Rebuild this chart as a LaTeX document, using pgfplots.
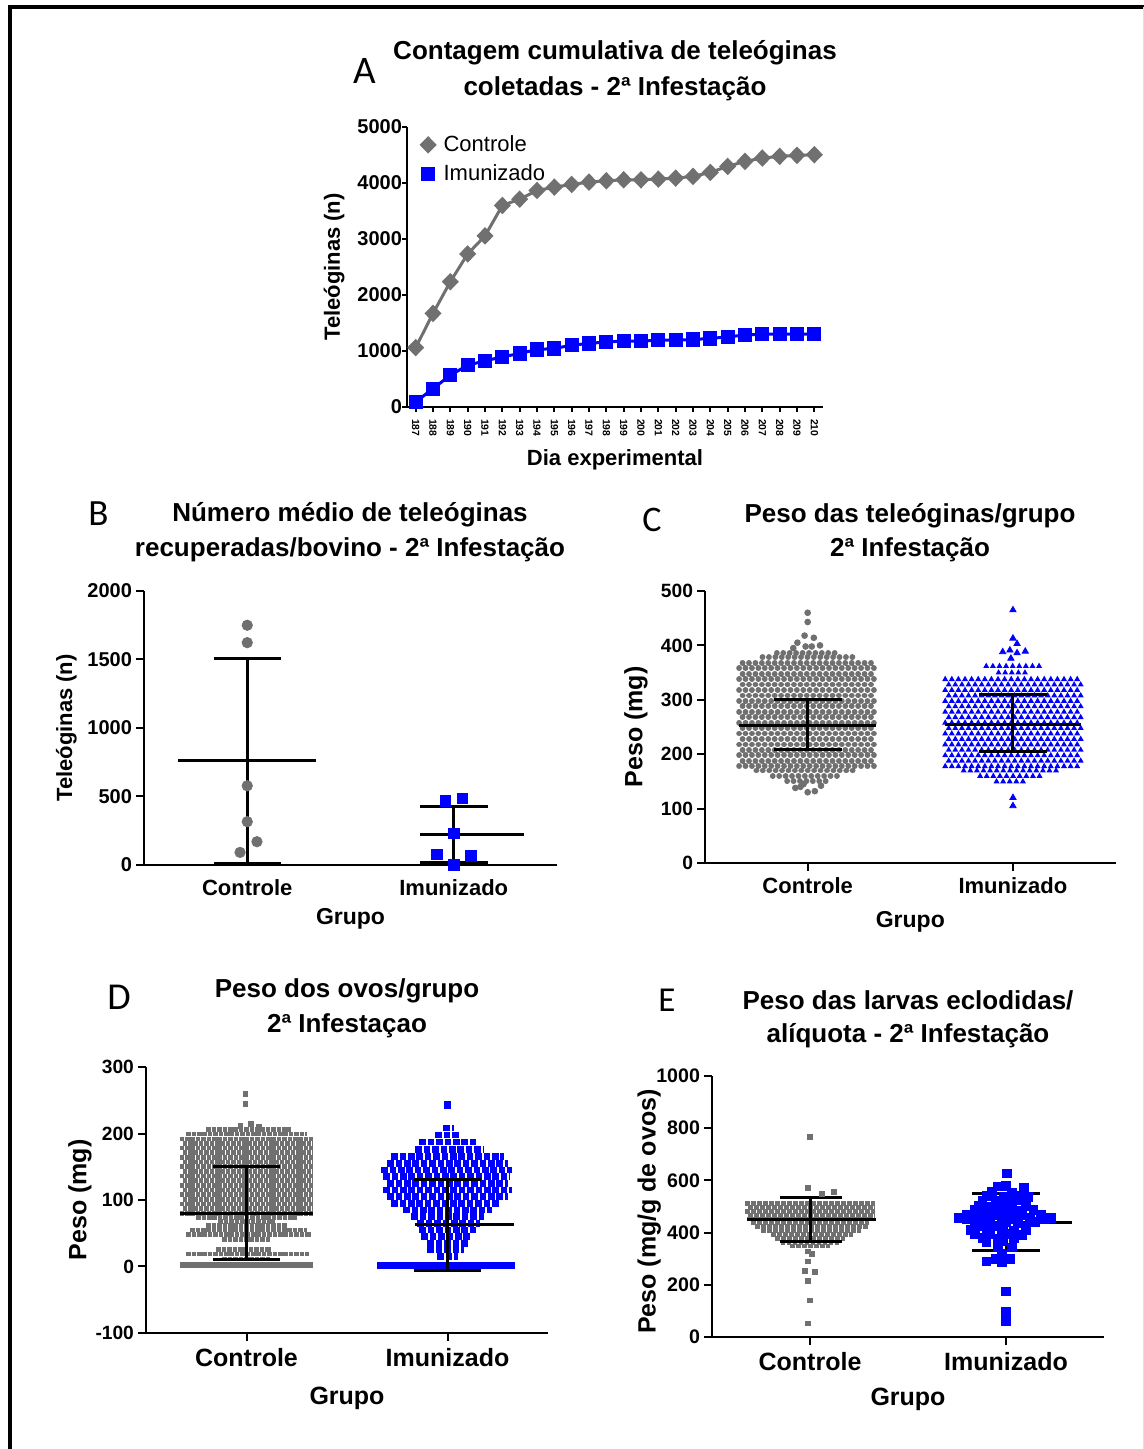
\documentclass[border=0pt]{standalone}
\usepackage{fontspec}
\setmainfont{Liberation Sans}
\newfontfamily\carlito{Carlito}
\usepackage{pgfplots}
\pgfplotsset{compat=1.18}
\usetikzlibrary{decorations.markings}

\definecolor{ctrl}{RGB}{112,112,112}
\definecolor{imun}{RGB}{0,0,255}

\newcommand{\fs}[1]{\fontsize{#1}{#1}\selectfont}

\pgfplotsset{
  base/.style={
    scale only axis, anchor=south west, clip=false,
    axis lines*=left, axis line style={line width=1pt,-},
    tick align=outside, major tick length=4pt,
    tick style={line width=1pt, black},
    /pgf/number format/assume math mode=true,
    /pgf/number format/1000 sep={},
  },
  gp/.style={
    base, xmin=0.5, xmax=2.5, xtick={1,2},
    xticklabels={Controle,Imunizado},
    xlabel={Grupo},
  },
  mline/.style={black, line width=1.5pt, unbounded coords=jump},
  dotrow/.style={draw=ctrl, line width=2.9pt, line cap=round,
    dash pattern=on 0.01pt off 3.2pt, unbounded coords=jump},
  sqrow/.style n args={3}{draw=#1, line width=#2, line cap=butt,
    dash pattern=on #2 off #3, unbounded coords=jump},
  trirow/.style={draw=none, postaction={decorate},
    decoration={markings, mark=between positions 0 and 1 step 3.3pt with
      {\fill[imun] (0pt,1.7pt)--(1.5pt,-0.95pt)--(-1.5pt,-0.95pt)--cycle;}}},
}

\begin{document}
\begin{tikzpicture}
\path[use as bounding box] (0pt,0pt) rectangle (572pt,724.5pt);
\fill[white] (0pt,0pt) rectangle (572pt,724.5pt);
\draw[line width=2pt] (5pt,0pt) -- (5pt,721pt) -- (572pt,721pt);
\draw[gray!25, line width=0.5pt] (571.5pt,0pt) -- (571.5pt,721pt);

% ---------- A ----------
\begin{axis}[base, at={(203.5pt,521pt)}, width=208pt, height=140pt,
  xmin=186.5, xmax=210.5, ymin=0, ymax=5000,
  major tick length=2.5pt,
  xtick={187,...,210}, ytick={0,1000,...,5000},
  xticklabel style={rotate=-90, anchor=west, font=\bfseries\fs{5.2}},
  yticklabel style={font=\bfseries\fs{10}, xshift=3.5pt},
  xlabel={Dia experimental}, ylabel={Teleóginas (n)},
  xlabel style={at={(axis description cs:0.5,-0.19)}, anchor=center, font=\bfseries\fs{11}},
  ylabel style={at={(axis description cs:-0.175,0.5)}, anchor=center, font=\bfseries\fs{11}},
  legend style={at={(0.02,1.0)}, anchor=north west, draw=none, fill=none,
    font=\fs{11}, row sep=1.2pt, column sep=2.5pt},
  legend cell align=left,
  legend image code/.code={\draw[#1, only marks] plot coordinates {(0.15cm,0cm)};},
]
\addplot[ctrl, line width=1.5pt, mark=diamond*, mark size=3.3pt,
  mark options={xscale=1.3}] coordinates {
(187,1060)(188,1671)(189,2237)(190,2733)(191,3055)(192,3598)(193,3711)(194,3866)
(195,3926)(196,3974)(197,4015)(198,4039)(199,4057)(200,4057)(201,4069)(202,4087)
(203,4117)(204,4189)(205,4296)(206,4386)(207,4445)(208,4475)(209,4493)(210,4505)};
\addplot[imun, line width=1.5pt, mark=square*, mark size=2.8pt] coordinates {
(187,90)(188,328)(189,567)(190,746)(191,823)(192,895)(193,955)(194,1026)
(195,1044)(196,1104)(197,1134)(198,1163)(199,1175)(200,1175)(201,1193)(202,1193)
(203,1205)(204,1223)(205,1253)(206,1283)(207,1301)(208,1301)(209,1301)(210,1301)};
\legend{Controle,Imunizado}
\end{axis}

% ---------- B ----------
\begin{axis}[gp, at={(72pt,292pt)}, width=206.5pt, height=137pt,
  ymin=0, ymax=2000, ytick={0,500,...,2000}, xtick style={draw=none},
  yticklabel style={font=\bfseries\fs{10}, xshift=1.5pt},
  xticklabel style={font=\bfseries\fs{11}},
  ylabel={Teleóginas (n)},
  xlabel style={at={(axis description cs:0.5,-0.197)}, anchor=center, font=\bfseries\fs{11.5}},
  ylabel style={at={(axis description cs:-0.188,0.5)}, anchor=center, font=\bfseries\fs{11}},
]
\addplot[only marks, mark=*, mark size=2.6pt, ctrl] coordinates {
(1,1750)(1,1623)(1,578)(1,316)(1.047,170)(0.965,92)};
\addplot[only marks, mark=square*, mark size=2.7pt, imun] coordinates {
(1.96,467)(2.042,486)(2,231)(1.92,78)(2.082,68)(2,0)};
\addplot[mline] coordinates {
(0.666,761)(1.334,761)(1,nan)(1,12)(1,1505)(1,nan)
(0.837,1505)(1.163,1505)(1,nan)(0.837,12)(1.163,12)(1,nan)
(1.835,219)(2.34,219)(2,nan)(2,17)(2,428)(2,nan)
(1.835,428)(2.165,428)(2,nan)(1.835,17)(2.165,17)};
\end{axis}

% ---------- C ----------
\begin{axis}[gp, at={(352.5pt,293pt)}, width=205.3pt, height=136pt,
  ymin=0, ymax=500, ytick={0,100,...,500},
  yticklabel style={font=\bfseries\fs{9.6}, xshift=1.5pt},
  xticklabel style={font=\bfseries\fs{11}},
  ylabel={Peso (mg)},
  xlabel style={at={(axis description cs:0.5,-0.217)}, anchor=center, font=\bfseries\fs{11.5}},
  ylabel style={at={(axis description cs:-0.168,0.5)}, anchor=center, font=\bfseries\fs{12.5}},
]
\addplot[dotrow] coordinates {
(0.666,178)(1.334,178)(1,nan)(0.683,188)(1.334,188)(1,nan)
(0.666,198)(1.334,198)(1,nan)(0.683,208)(1.334,208)(1,nan)
(0.666,218)(1.334,218)(1,nan)(0.683,228)(1.334,228)(1,nan)
(0.666,238)(1.334,238)(1,nan)(0.683,248)(1.334,248)(1,nan)
(0.666,258)(1.334,258)(1,nan)(0.683,268)(1.334,268)(1,nan)
(0.666,278)(1.334,278)(1,nan)(0.683,288)(1.334,288)(1,nan)
(0.666,298)(1.334,298)(1,nan)(0.683,308)(1.334,308)(1,nan)
(0.666,318)(1.334,318)(1,nan)(0.683,328)(1.334,328)(1,nan)
(0.666,338)(1.334,338)(1,nan)(0.683,348)(1.334,348)(1,nan)
(0.666,358)(1.334,358)(1,nan)(0.683,368)(1.334,368)(1,nan)
(0.78,378)(1.24,378)(1,nan)(0.85,386)(1.16,386)(1,nan)
(0.75,170)(1.25,170)(1,nan)(0.83,160)(1.17,160)(1,nan)
(0.9,150)(1.1,150)};
\addplot[only marks, mark=*, mark size=1.45pt, ctrl] coordinates {
(1.0,460)(1.0,443)(0.985,418)(1.03,414)(0.95,405)(0.99,398)(1.02,398)(1.06,400)
(0.93,395)(0.965,140)(1.0,130)(1.035,132)(0.94,138)(1.065,142)(0.98,145)};
\addplot[trirow] coordinates {(1.670,178)(2.33,178)};
\addplot[trirow] coordinates {(1.687,188)(2.33,188)};
\addplot[trirow] coordinates {(1.670,198)(2.33,198)};
\addplot[trirow] coordinates {(1.687,208)(2.33,208)};
\addplot[trirow] coordinates {(1.670,218)(2.33,218)};
\addplot[trirow] coordinates {(1.687,228)(2.33,228)};
\addplot[trirow] coordinates {(1.670,238)(2.33,238)};
\addplot[trirow] coordinates {(1.687,248)(2.33,248)};
\addplot[trirow] coordinates {(1.670,258)(2.33,258)};
\addplot[trirow] coordinates {(1.687,268)(2.33,268)};
\addplot[trirow] coordinates {(1.670,278)(2.33,278)};
\addplot[trirow] coordinates {(1.687,288)(2.33,288)};
\addplot[trirow] coordinates {(1.670,298)(2.33,298)};
\addplot[trirow] coordinates {(1.687,308)(2.33,308)};
\addplot[trirow] coordinates {(1.670,318)(2.33,318)};
\addplot[trirow] coordinates {(1.687,328)(2.33,328)};
\addplot[trirow] coordinates {(1.670,338)(2.33,338)};
\addplot[trirow] coordinates {(1.93,350)(2.07,350)};
\addplot[trirow] coordinates {(1.87,362)(2.13,362)};
\addplot[trirow] coordinates {(1.76,170)(2.24,170)};
\addplot[trirow] coordinates {(1.84,160)(2.16,160)};
\addplot[trirow] coordinates {(1.92,150)(2.08,150)};
\addplot[only marks, mark=triangle*, mark size=1.8pt, imun] coordinates {
(2,465)(2,413)(2.02,403)(1.95,388)(1.985,391)(2.02,386)(2.06,389)(1.99,376)(2.0,120)(2.0,105)};
\addplot[mline] coordinates {
(0.666,253)(1.334,253)(1,nan)(1,209)(1,300)(1,nan)
(0.835,300)(1.165,300)(1,nan)(0.835,209)(1.165,209)(1,nan)
(1.667,255)(2.333,255)(2,nan)(2,205)(2,309)(2,nan)
(1.835,309)(2.165,309)(2,nan)(1.835,205)(2.165,205)};
\end{axis}

% ---------- D ----------
\begin{axis}[gp, at={(73pt,58pt)}, width=201pt, height=133pt,
  ymin=-100, ymax=300, ytick={-100,0,...,300},
  yticklabel style={font=\bfseries\fs{9.6}, xshift=1.5pt},
  xticklabel style={font=\bfseries\fs{12.5}},
  ylabel={Peso (mg)},
  xlabel style={at={(axis description cs:0.5,-0.245)}, anchor=center, font=\bfseries\fs{12.5}},
  ylabel style={at={(axis description cs:-0.164,0.5)}, anchor=center, font=\bfseries\fs{12.5}},
]
\addplot[ctrl, line width=3.2pt] coordinates {(0.667,2)(1.333,2)};
\addplot[sqrow={ctrl}{2.3pt}{0.4pt}] coordinates {
(0.88,11)(1.12,11)(1,nan)(0.70,19)(1.31,19)(1,nan)(0.85,26)(1.12,26)(1,nan)
(0.88,41)(1.12,41)(1,nan)(0.70,48)(1.32,48)(1,nan)(0.72,55)(1.30,55)(1,nan)
(0.80,62)(1.20,62)(1,nan)(0.86,68)(1.14,68)(1,nan)(0.75,74)(1.25,74)(1,nan)
(0.667,80)(1.333,80)(1,nan)(0.682,87)(1.333,87)(1,nan)
(0.667,94)(1.333,94)(1,nan)(0.682,101)(1.333,101)(1,nan)
(0.667,108)(1.333,108)(1,nan)(0.682,115)(1.333,115)(1,nan)
(0.667,122)(1.333,122)(1,nan)(0.682,129)(1.333,129)(1,nan)
(0.667,136)(1.333,136)(1,nan)(0.682,143)(1.333,143)(1,nan)
(0.667,150)(1.333,150)(1,nan)(0.682,157)(1.333,157)(1,nan)
(0.667,164)(1.333,164)(1,nan)(0.682,171)(1.333,171)(1,nan)
(0.667,178)(1.333,178)(1,nan)(0.682,185)(1.333,185)(1,nan)
(0.667,192)(1.333,192)(1,nan)(0.70,199)(1.30,199)(1,nan)
(0.80,206)(1.22,206)};
\addplot[only marks, mark=square*, mark size=1.2pt, ctrl] coordinates {
(0.97,212)(1.02,214)(1.06,210)(0.995,245)(0.995,260)};
\addplot[imun, line width=3.6pt] coordinates {(1.65,2)(2.335,2)};
\addplot[sqrow={imun}{3.3pt}{0.9pt}] coordinates {
(1.95,15)(2.05,15)(2,nan)(1.90,25)(2.08,25)(2,nan)(1.90,35)(2.10,35)(2,nan)
(1.87,45)(2.12,45)(2,nan)(1.86,55)(2.14,55)(2,nan)(1.85,65)(2.16,65)(2,nan)
(1.82,75)(2.18,75)(2,nan)(1.78,85)(2.22,85)(2,nan)(1.72,95)(2.26,95)(2,nan)
(1.70,105)(2.30,105)(2,nan)(1.68,115)(2.32,115)(2,nan)(1.70,125)(2.30,125)(2,nan)
(1.68,135)(2.31,135)(2,nan)(1.67,145)(2.32,145)(2,nan)(1.70,155)(2.30,155)(2,nan)
(1.72,165)(2.28,165)(2,nan)(1.84,176)(2.18,176)(2,nan)(1.86,187)(2.14,187)(2,nan)
(1.94,198)(2.06,198)(2,nan)(1.98,208)(2.03,208)};
\addplot[only marks, mark=square*, mark size=1.65pt, imun] coordinates {(2.0,243)};
\addplot[mline] coordinates {
(0.667,79)(1.333,79)(1,nan)(1,10)(1,151)(1,nan)
(0.833,151)(1.167,151)(1,nan)(0.833,10)(1.167,10)(1,nan)
(1.837,63)(2.333,63)(2,nan)(2,-6)(2,131)(2,nan)
(1.835,131)(2.165,131)(2,nan)(1.835,-6)(2.165,-6)};
\end{axis}

% ---------- E ----------
\begin{axis}[gp, at={(356pt,56pt)}, width=196pt, height=130.5pt,
  ymin=0, ymax=1000, ytick={0,200,...,1000},
  yticklabel style={font=\bfseries\fs{9.8}, xshift=1.5pt},
  xticklabel style={font=\bfseries\fs{12.5}},
  ylabel={Peso (mg/g de ovos)},
  xlabel style={at={(axis description cs:0.5,-0.24)}, anchor=center, font=\bfseries\fs{12.5}},
  ylabel style={at={(axis description cs:-0.16,0.48)}, anchor=center, font=\bfseries\fs{12.5}},
]
\addplot[sqrow={ctrl}{2.4pt}{0.6pt}] coordinates {
(0.670,512)(1.33,512)(1,nan)(0.685,497)(1.33,497)(1,nan)
(0.670,482)(1.33,482)(1,nan)(0.685,467)(1.33,467)(1,nan)
(0.68,452)(1.32,452)(1,nan)(0.70,437)(1.30,437)(1,nan)
(0.72,422)(1.30,422)(1,nan)(0.75,407)(1.26,407)(1,nan)
(0.80,392)(1.22,392)(1,nan)(0.82,377)(1.18,377)(1,nan)
(0.85,362)(1.15,362)(1,nan)(0.90,349)(1.10,349)};
\addplot[only marks, mark=square*, mark size=1.2pt, ctrl] coordinates {
(1.0,768)(0.99,572)(1.12,556)(1.06,548)(0.99,328)(1.01,318)(0.99,290)
(0.975,252)(1.025,250)(0.99,215)(1.0,140)(0.99,52)};
\addplot[only marks, mark=square*, mark size=2.2pt, imun] coordinates {
(2.005,627)
(1.96,577)(2.0,578)(2.09,572)
(1.93,556)(2.03,553)
(1.9,540)(1.99,538)(2.06,541)(2.11,536)
(1.88,520)(1.95,522)(2.03,519)(2.08,523)
(1.86,503)(1.92,500)(1.97,504)(2.02,498)(2.1,502)
(1.84,487)(1.9,485)(2.0,488)(2.05,483)(2.14,486)
(1.8,470)(1.88,472)(1.95,468)(2.02,471)(2.08,467)(2.18,470)
(1.76,455)(1.8,452)(1.85,456)(1.92,454)(1.98,457)(2.05,453)(2.12,456)(2.2,452)(2.23,455)
(1.84,440)(1.9,438)(2.0,441)(2.06,437)(2.15,440)
(1.85,424)(1.95,426)(2.1,423)
(1.82,410)(1.9,408)(1.98,411)(2.04,407)(2.1,410)
(1.84,395)(1.92,393)(2.0,396)(2.08,392)
(1.88,380)(1.96,378)(2.04,381)
(1.9,364)(1.98,366)
(1.96,345)(2.03,343)
(1.98,318)
(1.95,300)(2.02,298)
(1.9,290)(1.98,286)
(2.0,175)(2.0,95)(2.0,62)};
\addplot[mline] coordinates {
(0.676,451)(1.337,451)(1,nan)(1,366)(1,536)(1,nan)
(0.847,536)(1.162,536)(1,nan)(0.847,366)(1.162,366)(1,nan)
(1.829,439)(2.339,439)(2,nan)(2,332)(2,551)(2,nan)
(1.829,551)(2.171,551)(2,nan)(1.829,332)(2.171,332)};
\end{axis}

% ---------- titles and panel letters ----------
\begin{scope}[every node/.style={anchor=base, inner sep=0pt, font=\bfseries\fs{13}}]
\node at (307.5pt,694.5pt) {Contagem cumulativa de teleóginas};
\node at (307.5pt,676.5pt) {coletadas - 2ª Infestação};
\node at (175pt,463.5pt) {Número médio de teleóginas};
\node at (175pt,446pt) {recuperadas/bovino - 2ª Infestação};
\node at (455pt,463pt) {Peso das teleóginas/grupo};
\node at (455pt,446pt) {2ª Infestação};
\node at (173.5pt,225.5pt) {Peso dos ovos/grupo};
\node at (173.5pt,208pt) {2ª Infestaçao};
\node at (454pt,219.5pt) {Peso das larvas eclodidas/};
\node at (454pt,203pt) {alíquota - 2ª Infestação};
\end{scope}
\begin{scope}[every node/.style={anchor=base west, inner sep=0pt}]
\node[font=\carlito\fs{19.5}] at (176.5pt,682.5pt) {A};
\node[font=\carlito\fs{18.5}] at (44pt,461.5pt) {B};
\node[font=\carlito\fs{18}] at (321pt,458.5pt) {C};
\node[font=\carlito\fs{19}] at (53.5pt,219.5pt) {D};
\node[font=\carlito\fs{17.5}] at (329pt,218.5pt) {E};
\end{scope}
\end{tikzpicture}
\end{document}
